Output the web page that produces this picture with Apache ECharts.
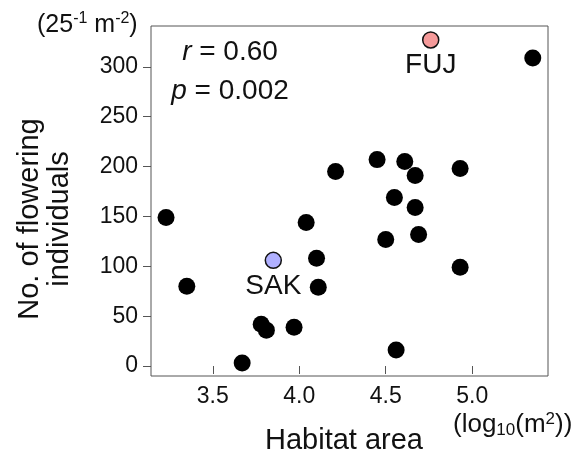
<!DOCTYPE html>
<html>
<head>
<meta charset="utf-8">
<script src="https://cdn.jsdelivr.net/npm/echarts@6/dist/echarts.min.js"></script>
<style>
  html, body { margin: 0; padding: 0; background: #fff; }
  #chart { width: 582px; height: 463px; }
</style>
</head>
<body>
<div id="chart"></div>
<script>
// habitat area (log10 m2) and flowering individuals
const areaLog = [3.23, 3.35, 3.67, 3.78, 3.81, 3.97, 4.04, 4.10, 4.11, 4.21, 4.45,
  4.61, 4.67, 4.55, 4.67, 4.50, 4.69, 4.56, 5.35, 4.93, 4.93]
const flowering = [149, 80, 3, 42, 36, 39, 144, 108, 79, 195, 207,
  205, 191, 169, 159, 127, 132, 16, 309, 198, 99]

// highlighted sites
const siteNames = ['SAK', 'FUJ']
const siteArea = [3.85, 4.76]
const siteFlowering = [106, 327]
const siteColors = ['#b0b0ff', '#f59a9a']

const xTicks = [3.5, 4.0, 4.5, 5.0]
const yTicks = [0, 50, 100, 150, 200, 250, 300]

const FONT = 'Liberation Sans, Arial, sans-serif'
const INK = '#111'
const FRAME = '#555'

const chart = echarts.init(document.getElementById('chart'))

const option = {
  animation: false,
  grid: {
    left: 151, right: 34, top: 26, bottom: 87,
    show: true, borderColor: FRAME, borderWidth: 1
  },
  xAxis: {
    type: 'value',
    min: 3.143,
    max: 5.438,
    splitLine: { show: false },
    axisLine: { show: false },
    axisTick: { show: true, length: 8, customValues: xTicks, lineStyle: { color: FRAME } },
    axisLabel: {
      customValues: xTicks,
      margin: 9,
      fontSize: 23,
      fontFamily: FONT,
      color: INK,
      formatter: v => v.toFixed(1)
    },
    name: 'Habitat area',
    nameLocation: 'middle',
    nameGap: 50,
    nameTextStyle: { fontSize: 29, fontFamily: FONT, color: INK, padding: [0, 11, 0, 0] }
  },
  yAxis: {
    type: 'value',
    min: -10,
    max: 341,
    splitLine: { show: false },
    axisLine: { show: false },
    axisTick: { show: true, length: 8, customValues: yTicks, lineStyle: { color: FRAME } },
    axisLabel: {
      customValues: yTicks,
      margin: 13,
      fontSize: 23,
      fontFamily: FONT,
      color: INK
    }
  },
  series: [
    {
      type: 'scatter',
      symbolSize: 17,
      itemStyle: { color: '#000', opacity: 1 },
      data: areaLog.map((x, i) => [x, flowering[i]])
    },
    {
      type: 'scatter',
      symbolSize: 16,
      data: siteArea.map((x, i) => ({
        name: siteNames[i],
        value: [x, siteFlowering[i]],
        itemStyle: { color: siteColors[i] }
      })),
      itemStyle: { borderColor: '#111', borderWidth: 1.5, opacity: 1 },
      label: {
        show: true,
        position: 'bottom',
        distance: 3,
        formatter: p => p.name,
        fontSize: 28,
        fontFamily: FONT,
        color: INK
      }
    }
  ],
  graphic: [
    {
      type: 'text',
      x: 45, y: 219,
      rotation: Math.PI / 2,
      style: {
        text: 'No. of flowering\nindividuals',
        font: '29px ' + FONT,
        fill: INK,
        align: 'center',
        verticalAlign: 'middle',
        lineHeight: 30
      }
    },
    {
      type: 'text',
      x: 37, y: 25,
      style: {
        text: '{b|(25}{s|-1}{b| m}{s|-2}{b|)}',
        align: 'left',
        verticalAlign: 'middle',
        fill: INK,
        rich: {
          b: { fontSize: 25, fontFamily: FONT, lineHeight: 28, fill: INK },
          s: { fontSize: 16, fontFamily: FONT, lineHeight: 16, verticalAlign: 'top', fill: INK }
        }
      }
    },
    {
      type: 'text',
      x: 453, y: 425,
      style: {
        text: '{b|(log}{d|10}{b|(m}{s|2}{b|))}',
        align: 'left',
        verticalAlign: 'middle',
        fill: INK,
        rich: {
          b: { fontSize: 26, fontFamily: FONT, lineHeight: 28, fill: INK },
          s: { fontSize: 17, fontFamily: FONT, lineHeight: 16, verticalAlign: 'top', fill: INK },
          d: { fontSize: 17, fontFamily: FONT, lineHeight: 14, verticalAlign: 'bottom', fill: INK }
        }
      }
    },
    {
      type: 'text',
      x: 230, y: 72,
      style: {
        text: '{i|r} = 0.60\n{i|p} = 0.002',
        font: '28px ' + FONT,
        fill: INK,
        align: 'center',
        verticalAlign: 'middle',
        rich: {
          i: { fontSize: 28, fontFamily: FONT, fontStyle: 'italic', lineHeight: 39, fill: INK },
          '': { fontSize: 28, fontFamily: FONT, lineHeight: 39, fill: INK }
        },
        lineHeight: 39
      }
    }
  ]
}

chart.setOption(option)
</script>
</body>
</html>
